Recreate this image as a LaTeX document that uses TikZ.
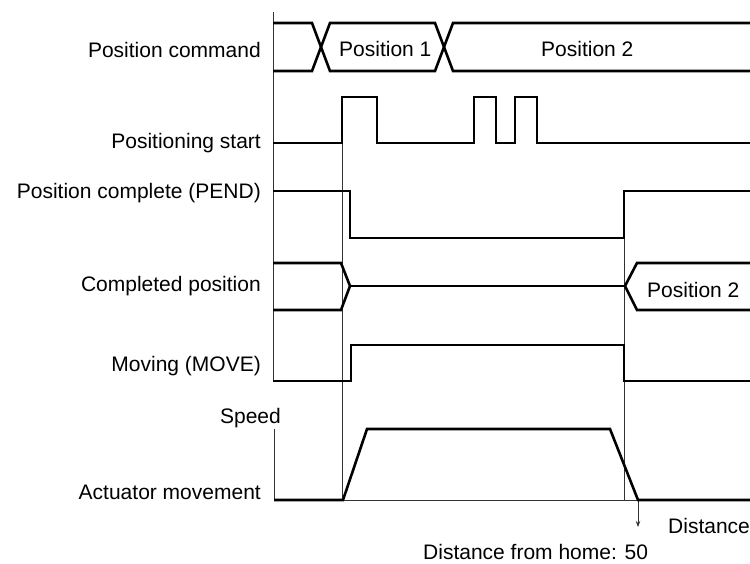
\documentclass[tikz,border=0pt]{standalone}
\usepackage{fontspec}
\setmainfont{Liberation Sans}
\usetikzlibrary{arrows.meta}
\begin{document}
\begin{tikzpicture}[x=1pt,y=-1pt,
  sig/.style={line width=2.6pt,line join=miter,black},
  thinline/.style={line width=0.9pt,black!80},
  lbl/.style={inner sep=0pt,font=\fontsize{21}{25}\selectfont},
  lab/.style={lbl,anchor=base east}]
\useasboundingbox (0,0) rectangle (750,563);
% labels
\node[lab] (lcmd) at (261,57) {Position command};
\node[lab] (lstart) at (261,148) {Positioning start};
\node[lab] (lpend) at (261,198) {Position complete (PEND)};
\node[lab] (lcomp) at (261,291) {Completed position};
\node[lab] (lmove) at (261,371) {Moving (MOVE)};
\node[lab] (lspeed) at (281,423) {Speed};
\node[lab] (lact) at (261,499) {Actuator movement};
\node[lbl,anchor=base west] (p1) at (339,56) {Position 1};
\node[lbl,anchor=base west] (p2) at (541,56) {Position 2};
\node[lbl,anchor=base west] (p2b) at (647,297) {Position 2};
\node[lbl,anchor=base west] (ldist) at (668,533) {Distance};
\node[lbl,anchor=base west] (lhome) at (423,559) {Distance from home: 50};
% axes and reference lines
\draw[thinline] (273,12) -- (273,381);
\draw[thinline] (274,429) -- (274,500);
\draw[thinline] (274,500) -- (750,500);
\draw[thinline] (342,97) -- (342,500);
\draw[thinline] (624,192) -- (624,500);
\coordinate (dstop) at (638,500);
\coordinate (dsend) at (638,527);
\draw[thinline,-{Stealth[length=6pt,width=4.5pt]}] (dstop) -- (dsend);
% position command
\draw[sig] (273,23) -- (312,23) -- (330,71) -- (435,71) -- (453,23) -- (750,23);
\draw[sig] (273,71) -- (312,71) -- (330,23) -- (435,23) -- (453,71) -- (750,71);
% positioning start
\draw[sig] (273,143) -- (342,143) -- (342,97) -- (377,97) -- (377,143)
  -- (474,143) -- (474,97) -- (496,97) -- (496,143)
  -- (515,143) -- (515,97) -- (537,97) -- (537,143) -- (750,143);
% PEND
\draw[sig] (273,191) -- (350,191) -- (350,238) -- (624,238) -- (624,191) -- (750,191);
% completed position
\draw[sig] (273,263) -- (341,263) -- (350,286) -- (341,310) -- (273,310);
\draw[sig] (350,286) -- (625,286);
\draw[sig] (750,263) -- (637,263) -- (625,286) -- (637,310) -- (750,310);
% moving
\draw[sig] (273,381) -- (351,381) -- (351,345) -- (624,345) -- (624,381) -- (750,381);
% speed
\draw[sig] (274,500) -- (343,500) -- (367,429) -- (610,429) -- (638,500) -- (750,500);
\end{tikzpicture}
\end{document}
